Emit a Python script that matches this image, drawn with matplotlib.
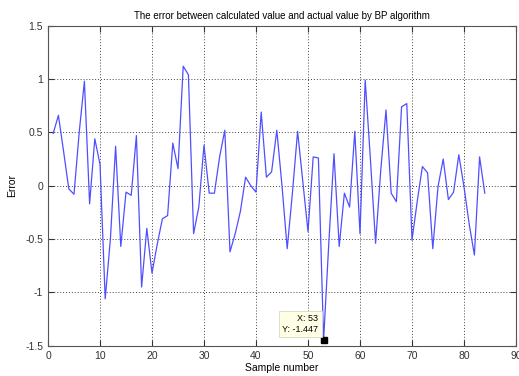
import matplotlib
matplotlib.use("Agg")
import matplotlib.pyplot as plt

# error of BP algorithm per sample
samples = list(range(1, 85))
errors = [0.49, 0.66, 0.32, -0.03, -0.08, 0.50, 0.98, -0.17, 0.44, 0.20,
          -1.06, -0.50, 0.37, -0.57, -0.06, -0.09, 0.47, -0.95, -0.40, -0.82,
          -0.55, -0.31, -0.28, 0.40, 0.16, 1.12, 1.04, -0.45, -0.20, 0.38,
          -0.07, -0.07, 0.27, 0.52, -0.62, -0.45, -0.24, 0.08, 0.00, -0.06,
          0.69, 0.08, 0.13, 0.52, 0.00, -0.59, -0.07, 0.51, 0.04, -0.43,
          0.27, 0.26, -1.447, -0.54, 0.30, -0.57, -0.07, -0.20, 0.51, -0.45,
          0.99, 0.25, -0.54, 0.15, 0.71, -0.07, -0.15, 0.74, 0.77, -0.51,
          -0.15, 0.18, 0.12, -0.59, -0.01, 0.25, -0.13, -0.06, 0.29, -0.01,
          -0.36, -0.65, 0.27, -0.07]
tip_x = 53
tip_y = -1.447

plt.rcParams['font.family'] = ['Liberation Sans', 'DejaVu Sans']

fig = plt.figure(figsize=(5.19, 3.76), dpi=100)
ax = fig.add_axes([0.0925, 0.0806, 0.9017, 0.851])

ax.plot(samples, errors, color='#4f4fff', linewidth=0.9)
ax.plot([tip_x], [tip_y], marker='s', color='black', markersize=5, linestyle='none')
ax.text(tip_x - 1.0, tip_y + 0.15, "X: %d\nY: %.3f" % (tip_x, tip_y),
        ha='right', va='center', multialignment='right', fontsize=6.5,
        bbox=dict(boxstyle='square,pad=0.35', facecolor='#ffffe6', edgecolor='#d8d8c0', linewidth=0.6))

ax.set_xlim(0, 90)
ax.set_ylim(-1.5, 1.5)
ax.set_xticks(range(0, 91, 10))
ax.set_yticks([-1.5, -1, -0.5, 0, 0.5, 1, 1.5])
ax.set_yticklabels(['-1.5', '-1', '-0.5', '0', '0.5', '1', '1.5'])
ax.grid(True, color='#444444', linestyle=(0, (1, 2)), linewidth=0.7)
ax.tick_params(direction='in', top=True, right=True, labelsize=7.5, length=4, colors='#333333')
for s in ax.spines.values():
    s.set_color('#555555')
    s.set_linewidth(0.8)

ax.set_title("The error between calculated value and actual value by BP algorithm", fontsize=7, pad=5)
ax.set_xlabel("Sample number", fontsize=7.5, labelpad=2)
ax.set_ylabel("Error", fontsize=7.5, labelpad=6)

fig.savefig("out.png", dpi=100)
